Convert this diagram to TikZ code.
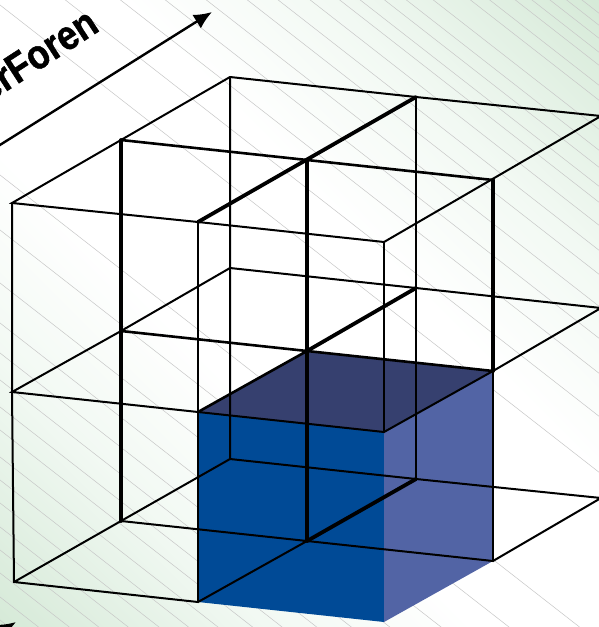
\documentclass[tikz,border=0pt]{standalone}
\usepackage{graphicx}
\usepackage{fontspec}
\setmainfont{Liberation Sans}[BoldFeatures={FakeBold=1.2}]
\usetikzlibrary{arrows.meta}
\definecolor{cornergreen}{HTML}{D1E7D3}
\definecolor{palegreen}{HTML}{F2F9F3}
\definecolor{frontblue}{HTML}{004A96}
\definecolor{sideblue}{HTML}{5264A5}
\definecolor{topblue}{HTML}{36406F}
\pgfdeclareverticalshading{cornerfade}{100bp}{
    color(0bp)=(cornergreen);
    color(12bp)=(cornergreen);
    color(30bp)=(palegreen);
    color(42bp)=(white);
    color(58bp)=(white);
    color(70bp)=(palegreen);
    color(88bp)=(cornergreen);
    color(100bp)=(cornergreen)
}
\begin{document}
\begin{tikzpicture}[
    x=1pt, y=-1pt,
    hatchline/.style={line width=0.5pt, black!22},
    thinedge/.style={line width=2pt, line cap=round, black},
    midedge/.style={line width=2.6pt, line cap=round, black},
    boldedge/.style={line width=3.8pt, line cap=round, black},
    axisarrow/.style={line width=2.4pt, black, -{Latex[length=18pt, width=16pt]}}
]
\useasboundingbox (0, 0) rectangle (599, 627);
\clip (0, 0) rectangle (599, 627);

% Background fade and hatching
\shade[shading=cornerfade, shading angle=-45] (0, 0) rectangle (599, 627);
\foreach \c in {620,597,573,550,527,503,480,457,430,407,380,353,323,283,230,175,5,-51,-94,-129,-161,-193,-217,-242,-265,-281,-300,-317,-338,-367,-382,-402,-415,-429,-442,-454} {
    \draw[hatchline] (-10, {\c-7.8}) -- (610, {\c+475.8});
}

% Lattice corners, top layer
\coordinate (t1) at (230, 77);
\coordinate (t2) at (416, 97);
\coordinate (t3) at (601, 116);
\coordinate (t4) at (121, 140);
\coordinate (t5) at (307, 160);
\coordinate (t6) at (493, 180);
\coordinate (t7) at (12, 203);
\coordinate (t8) at (198, 222);
\coordinate (t9) at (384, 242);

% Middle layer
\coordinate (m1) at (230, 268);
\coordinate (m2) at (416, 288);
\coordinate (m3) at (601, 308);
\coordinate (m4) at (121, 331);
\coordinate (m5) at (307, 351);
\coordinate (m6) at (493, 371);
\coordinate (m7) at (12, 392);
\coordinate (m8) at (198, 412);
\coordinate (m9) at (384, 432);

% Bottom layer
\coordinate (b1) at (230, 459);
\coordinate (b2) at (416, 479);
\coordinate (b3) at (601, 498);
\coordinate (b4) at (121, 521);
\coordinate (b5) at (307, 541);
\coordinate (b6) at (493, 561);
\coordinate (b7) at (14, 582);
\coordinate (b8) at (198, 602);
\coordinate (b9) at (384, 622);

% Solid cube faces
\fill[frontblue] (m8) -- (m9) -- (b9) -- (b8) -- cycle;
\fill[sideblue] (m9) -- (m6) -- (b6) -- (b9) -- cycle;
\fill[topblue] (m8) -- (m5) -- (m6) -- (m9) -- cycle;

% Thin edges
\draw[thinedge] (t1) -- (t2) -- (t3) -- (t9) -- (t8) -- (t7) -- (t1);
\draw[thinedge] (t7) -- (m7) -- (b7) -- (b8) -- (b5) -- (b4) -- (b7);
\draw[thinedge] (t1) -- (b1) -- (b2) -- (b3) -- (b6) -- (b5);
\draw[thinedge] (b1) -- (b4);
\draw[thinedge] (t2) -- (b2);
\draw[thinedge] (t8) -- (b8);
\draw[thinedge] (t9) -- (m9);
\draw[thinedge] (m6) -- (b6);
\draw[thinedge] (m1) -- (m2) -- (m3) -- (m6) -- (m9) -- (m8) -- (m7) -- (m4) -- (m1);

% Heavier edges
\draw[midedge] (t4) -- (t6);
\draw[midedge] (m4) -- (m5) -- (m6);
\draw[midedge] (m5) -- (m8);
\draw[boldedge] (t4) -- (b4);
\draw[boldedge] (t5) -- (b5);
\draw[boldedge] (t6) -- (m6);
\draw[boldedge] (t2) -- (t8);
\draw[boldedge] (m2) -- (m5);
\draw[boldedge] (b2) -- (b5);

% Axis arrows and label
\coordinate (axistail) at (-40, 170);
\coordinate (axishead) at (212, 12);
\coordinate (lowertail) at (-40, 657);
\coordinate (lowerhead) at (16, 622);
\draw[axisarrow] (axistail) -- (axishead);
\draw[axisarrow] (lowertail) -- (lowerhead);
\node[rotate=33, anchor=base east, inner sep=0pt, font=\fontsize{36}{36}\selectfont\bfseries] (axislabel) at (101, 30) {\scalebox{1}[1.15]{erForen}};

\end{tikzpicture}
\end{document}
